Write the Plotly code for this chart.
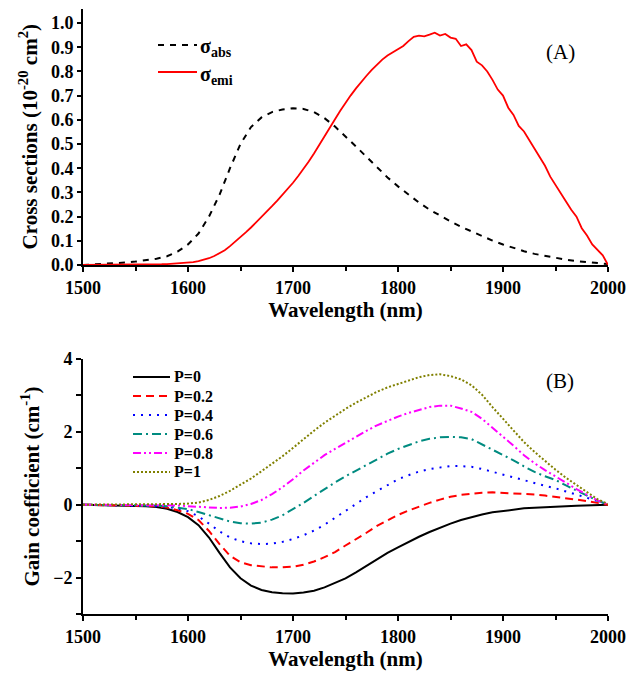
import plotly.graph_objects as go
from plotly.subplots import make_subplots

# ---------------- Panel A data ----------------
wl_abs = list(range(1500, 2001, 10))
sigma_abs = [0.000, 0.002, 0.004, 0.007, 0.010, 0.014, 0.019, 0.026, 0.036, 0.055,
             0.085, 0.130, 0.200, 0.290, 0.400, 0.500, 0.570, 0.610, 0.632, 0.643,
             0.648, 0.645, 0.632, 0.607, 0.572, 0.532, 0.490, 0.447, 0.404, 0.362,
             0.325, 0.290, 0.258, 0.229, 0.203, 0.180, 0.158, 0.138, 0.119, 0.101,
             0.085, 0.070, 0.057, 0.046, 0.037, 0.029, 0.022, 0.016, 0.011, 0.007,
             0.004]

wl_emi = list(range(1500, 2001, 5))
sigma_emi = [0.000, 0.000, 0.000, 0.001, 0.001, 0.001, 0.001, 0.001, 0.001, 0.002,
             0.002, 0.002, 0.002, 0.003, 0.003, 0.003, 0.004, 0.005, 0.006, 0.007,
             0.009, 0.012, 0.016, 0.021, 0.028, 0.037, 0.048, 0.061, 0.078, 0.096,
             0.115, 0.135, 0.155, 0.176, 0.198, 0.220, 0.243, 0.266, 0.290, 0.315,
             0.340, 0.368, 0.397, 0.428, 0.461, 0.495, 0.530, 0.566, 0.602, 0.637,
             0.670, 0.701, 0.730, 0.757, 0.782, 0.806, 0.828, 0.849, 0.866, 0.878,
             0.890, 0.905, 0.925, 0.943, 0.948, 0.945, 0.952, 0.960, 0.948, 0.955,
             0.940, 0.935, 0.905, 0.912, 0.888, 0.840, 0.825, 0.800, 0.765, 0.725,
             0.700, 0.650, 0.620, 0.575, 0.552, 0.515, 0.478, 0.447, 0.410, 0.365,
             0.330, 0.292, 0.262, 0.228, 0.200, 0.152, 0.122, 0.085, 0.062, 0.040,
             0.000]

# ---------------- Panel B data ----------------
wl_gain = list(range(1500, 2001, 10))
gain_p0 = [0.00, -0.005, -0.01, -0.015, -0.02, -0.03, -0.04, -0.06, -0.11, -0.20,
           -0.34, -0.56, -0.90, -1.32, -1.72, -2.02, -2.22, -2.34, -2.40, -2.43,
           -2.44, -2.41, -2.36, -2.27, -2.15, -2.02, -1.86, -1.68, -1.49, -1.32,
           -1.17, -1.02, -0.88, -0.75, -0.63, -0.52, -0.42, -0.34, -0.27, -0.21,
           -0.17, -0.13, -0.10, -0.08, -0.06, -0.05, -0.04, -0.03, -0.02, -0.01,
           0.00]
gain_p02 = [0.00, -0.004, -0.008, -0.012, -0.016, -0.02, -0.03, -0.04, -0.08, -0.15,
            -0.25, -0.42, -0.72, -1.08, -1.40, -1.58, -1.66, -1.70, -1.72, -1.72,
            -1.70, -1.65, -1.56, -1.44, -1.30, -1.12, -0.95, -0.77, -0.58, -0.42,
            -0.28, -0.16, -0.05, 0.05, 0.14, 0.22, 0.27, 0.31, 0.33, 0.34,
            0.33, 0.32, 0.30, 0.28, 0.25, 0.22, 0.18, 0.14, 0.10, 0.05,
            0.00]
gain_p04 = [0.00, -0.003, -0.006, -0.01, -0.014, -0.02, -0.03, -0.04, -0.06, -0.10,
            -0.18, -0.32, -0.52, -0.73, -0.90, -1.00, -1.06, -1.08, -1.07, -1.02,
            -0.94, -0.84, -0.71, -0.55, -0.36, -0.18, 0.02, 0.21, 0.38, 0.55,
            0.70, 0.81, 0.91, 0.98, 1.03, 1.06, 1.06, 1.04, 0.98, 0.90,
            0.83, 0.75, 0.67, 0.59, 0.52, 0.45, 0.37, 0.28, 0.19, 0.10,
            0.01]
gain_p06 = [0.00, -0.002, -0.004, -0.006, -0.008, -0.01, -0.015, -0.025, -0.04, -0.07,
            -0.12, -0.20, -0.29, -0.38, -0.46, -0.51, -0.52, -0.49, -0.41, -0.29,
            -0.13, 0.05, 0.24, 0.43, 0.61, 0.78, 0.94, 1.10, 1.24, 1.40,
            1.53, 1.64, 1.74, 1.81, 1.85, 1.86, 1.85, 1.80, 1.66, 1.52,
            1.38, 1.22, 1.05, 0.90, 0.78, 0.68, 0.53, 0.39, 0.25, 0.11,
            0.01]
gain_p08 = [0.00, -0.001, -0.002, -0.003, -0.004, -0.005, -0.006, -0.008, -0.01, -0.02,
            -0.04, -0.06, -0.08, -0.09, -0.08, -0.05, 0.02, 0.13, 0.29, 0.48,
            0.70, 0.94, 1.15, 1.36, 1.53, 1.70, 1.87, 2.03, 2.18, 2.31,
            2.42, 2.52, 2.61, 2.68, 2.72, 2.72, 2.64, 2.55, 2.36, 2.12,
            1.88, 1.62, 1.36, 1.14, 0.95, 0.77, 0.59, 0.43, 0.27, 0.12,
            0.01]
gain_p1 = [0.00, 0.001, 0.002, 0.002, 0.003, 0.005, 0.006, 0.008, 0.01, 0.02,
           0.03, 0.06, 0.13, 0.24, 0.38, 0.54, 0.72, 0.92, 1.12, 1.33,
           1.56, 1.80, 2.03, 2.25, 2.45, 2.63, 2.80, 2.96, 3.10, 3.22,
           3.32, 3.41, 3.50, 3.56, 3.58, 3.53, 3.44, 3.28, 3.02, 2.68,
           2.35, 2.05, 1.72, 1.45, 1.20, 0.96, 0.74, 0.54, 0.34, 0.15,
           0.02]

sigma_labels = ["σ<sub>abs</sub>", "σ<sub>emi</sub>"]
sigma_colors = ["#000000", "#ff0000"]
sigma_dashes = ["6px,6px", "solid"]

p_labels = ["P=0", "P=0.2", "P=0.4", "P=0.6", "P=0.8", "P=1"]
gain_series = [gain_p0, gain_p02, gain_p04, gain_p06, gain_p08, gain_p1]
gain_colors = ["#000000", "#ff0000", "#0000ff", "#008b80", "#ff00ff", "#808000"]
gain_dashes = ["solid", "8px,5px", "2px,6px", "9px,4px,2px,4px",
               "8px,3px,2px,3px,2px,3px", "2px,2px"]

FONT = "Liberation Serif"
W, H = 638, 676
OFF = 8  # page body margin offset


def px(x):
    return (x - OFF) / W


def py(y):
    return (H - (y - OFF)) / H


fig = make_subplots(rows=2, cols=1)

fig.add_trace(go.Scatter(x=wl_abs, y=sigma_abs, mode="lines", name=sigma_labels[0],
                         line=dict(color=sigma_colors[0], width=2, dash=sigma_dashes[0]),
                         showlegend=False), row=1, col=1)
fig.add_trace(go.Scatter(x=wl_emi, y=sigma_emi, mode="lines", name=sigma_labels[1],
                         line=dict(color=sigma_colors[1], width=1.8, dash=sigma_dashes[1]),
                         showlegend=False), row=1, col=1)

for lab, ys, c, d in zip(p_labels, gain_series, gain_colors, gain_dashes):
    fig.add_trace(go.Scatter(x=wl_gain, y=ys, mode="lines", name=lab,
                             line=dict(color=c, width=2, dash=d),
                             showlegend=False), row=2, col=1)

shapes = []
annotations = []

# legend for panel A
for i, (lab, c, d) in enumerate(zip(sigma_labels, sigma_colors, sigma_dashes)):
    yy = 45 + 27 * i
    shapes.append(dict(type="line", xref="paper", yref="paper",
                       x0=px(158), x1=px(197), y0=py(yy), y1=py(yy),
                       line=dict(color=c, width=2 if i == 0 else 1.8, dash=d)))
    annotations.append(dict(text=lab, x=px(198), y=py(yy + 3), xref="paper", yref="paper",
                            xanchor="left", yanchor="middle", showarrow=False,
                            font=dict(family=FONT, size=20, color="black", weight="bold")))

# legend for panel B
for i, (lab, c, d) in enumerate(zip(p_labels, gain_colors, gain_dashes)):
    yy = 377 + 19 * i
    shapes.append(dict(type="line", xref="paper", yref="paper",
                       x0=px(133), x1=px(170), y0=py(yy), y1=py(yy),
                       line=dict(color=c, width=2, dash=d)))
    annotations.append(dict(text=lab, x=px(172), y=py(yy), xref="paper", yref="paper",
                            xanchor="left", yanchor="middle", showarrow=False,
                            font=dict(family=FONT, size=16, color="black", weight="bold")))

annotations += [
    dict(text="(A)", x=px(560), y=py(52), xref="paper", yref="paper",
         xanchor="center", yanchor="middle",
         showarrow=False, font=dict(family=FONT, size=21, color="black")),
    dict(text="(B)", x=px(560), y=py(381), xref="paper", yref="paper",
         xanchor="center", yanchor="middle",
         showarrow=False, font=dict(family=FONT, size=21, color="black")),
]

tickfont = dict(family=FONT, size=18, color="black", weight="bold")
titlefont = dict(family=FONT, size=21, color="black", weight="bold")

xdom = [px(83), px(608)]
common_x = dict(range=[1500, 2000], dtick=100, tick0=1500, showgrid=False, zeroline=False,
                showline=True, linecolor="black", linewidth=2, ticks="outside",
                ticklen=5, tickwidth=1.5, tickcolor="black", tickfont=tickfont,
                minor=dict(dtick=50, ticks="outside", ticklen=4, tickwidth=1.5,
                           tickcolor="black"),
                domain=xdom, automargin=False)

fig.update_layout(
    width=W, height=H, plot_bgcolor="white", paper_bgcolor="white",
    margin=dict(l=0, r=0, t=0, b=0),
    font=dict(family=FONT, color="black"),
    showlegend=False,
    xaxis=dict(common_x, anchor="y",
               title=dict(text="Wavelength (nm)", font=titlefont, standoff=4)),
    yaxis=dict(range=[0, 1.06], dtick=0.1, tickformat=".1f", showgrid=False,
               zeroline=False, showline=True, linecolor="black", linewidth=2,
               ticks="outside", ticklen=4, tickwidth=1.5, tickcolor="black",
               tickfont=tickfont, domain=[py(265), py(8.5)],
               automargin=False,
               title=dict(text="Cross sections (10<sup>-20</sup> cm<sup>2</sup>)",
                          font=titlefont, standoff=8)),
    xaxis2=dict(common_x, anchor="y2",
                title=dict(text="Wavelength (nm)", font=titlefont, standoff=4)),
    yaxis2=dict(range=[-3, 4], dtick=2, tick0=0, showgrid=False, zeroline=False,
                showline=True, linecolor="black", linewidth=2, ticks="outside",
                ticklen=5, tickwidth=1.5, tickcolor="black", tickfont=tickfont,
                minor=dict(dtick=1, ticks="outside", ticklen=5, tickwidth=1.5,
                           tickcolor="black"),
                domain=[py(614), py(359)], automargin=False,
                title=dict(text="Gain coefficient (cm<sup>-1</sup>)",
                           font=titlefont, standoff=8)),
    shapes=shapes,
    annotations=annotations,
)

fig.write_html("out.html")
